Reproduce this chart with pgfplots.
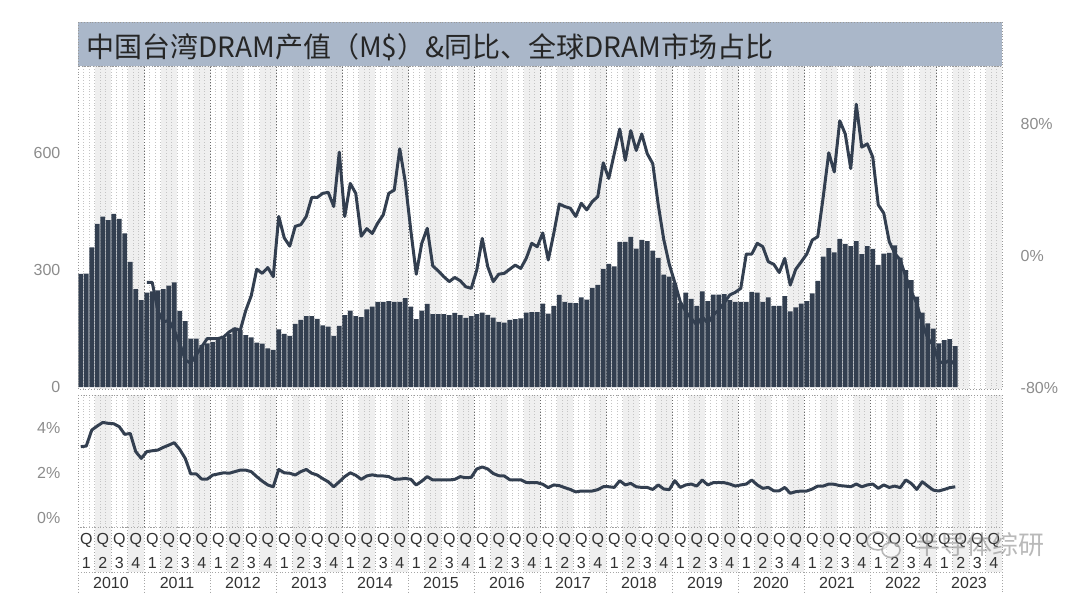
\documentclass[border=0pt]{standalone}
\usepackage{fontspec}
\setmainfont{Liberation Sans}
\newfontfamily\cjk{Noto Sans CJK SC}
\usepackage{pgfplots}
\usepackage{pgfplotstable}
\pgfplotsset{compat=1.18}
\definecolor{navy1}{HTML}{333F50}
\definecolor{shd}{HTML}{EFEFEF}
\definecolor{mgridc}{HTML}{C4C4C4}
\definecolor{ygridc}{HTML}{6A6A6A}
\definecolor{tbar}{RGB}{170,183,201}
\definecolor{ticklab}{HTML}{8C8C8C}
\definecolor{qlab}{HTML}{333333}

\pgfplotstableread{
i v
0 290
1 291
2 358
3 418
4 437
5 428
6 444
7 431
8 394
9 321
10 251
11 223
12 242
13 245
14 248
15 251
16 260
17 268
18 195
19 169
20 124
21 124
22 108
23 112
24 116
25 123
26 126
27 136
28 146
29 146
30 133
31 127
32 114
33 111
34 99
35 95
36 148
37 136
38 131
39 162
40 172
41 182
42 182
43 175
44 158
45 155
46 131
47 157
48 184
49 196
50 182
51 179
52 199
53 206
54 218
55 218
56 220
57 218
58 218
59 228
60 206
61 174
62 196
63 213
64 187
65 187
66 187
67 184
68 190
69 184
70 177
71 182
72 187
73 191
74 185
75 178
76 167
77 165
78 172
79 174
80 176
81 191
82 192
83 192
84 214
85 188
86 208
87 236
88 218
89 216
90 215
91 230
92 224
93 254
94 262
95 303
96 316
97 309
98 372
99 372
100 385
101 355
102 377
103 374
104 350
105 331
106 288
107 283
108 267
109 216
110 242
111 226
112 208
113 245
114 220
115 237
116 237
117 238
118 223
119 218
120 218
121 218
122 244
123 242
124 218
125 230
126 208
127 208
128 233
129 194
130 204
131 214
132 220
133 240
134 272
135 334
136 356
137 345
138 380
139 367
140 361
141 374
142 341
143 361
144 354
145 313
146 342
147 344
148 363
149 332
150 300
151 274
152 232
153 191
154 163
155 150
156 112
157 120
158 123
159 105
}\bars

\pgfplotstableread{
i v
12 -16
13 -16
14 -33
15 -40
16 -39
17 -45
18 -53
19 -63
20 -65
21 -60
22 -55
23 -50
24 -50
25 -50
26 -49
27 -46
28 -44
29 -45
30 -33
31 -24
32 -8
33 -10.5
34 -7
35 -12.5
36 24
37 11
38 6
39 18
40 19
41 24
42 35.5
43 35.5
44 38
45 38.6
46 30
47 63
48 24
49 44
50 38
51 12
52 16.6
53 13.7
54 20
55 25
56 38
57 40
58 65
59 45
60 15.8
61 -11
62 7.7
63 16.8
64 -6
65 -9
66 -12.5
67 -15.5
68 -13
69 -15
70 -18.6
71 -19.6
72 -8.5
73 10.7
74 -6.5
75 -15.5
76 -11
77 -10.5
78 -8
79 -5.5
80 -7.5
81 -1.4
82 7.7
83 5.6
84 14
85 -2.4
86 13.7
87 31.5
88 30
89 29
90 24
91 32
92 28
93 33
94 36
95 56.5
96 47
97 62
98 77
99 58
100 76
101 64
102 74
103 62
104 56
105 31
106 10
107 -5
108 -16
109 -27.7
110 -33.7
111 -37.8
112 -41.8
113 -36.8
114 -40.8
115 -35.8
116 -32.7
117 -28.3
118 -23.6
119 -22
120 -19.6
121 1.2
122 1.2
123 7.7
124 5.7
125 -3.4
126 -5
127 -10
128 -1.4
129 -17.6
130 -8
131 -3.5
132 1.2
133 9.7
134 11.7
135 36
136 62.6
137 51
138 82
139 74
140 53
141 92
142 66
143 68
144 60
145 31
146 26
147 8.7
148 1.6
149 -2.4
150 -12.5
151 -21.6
152 -28.7
153 -40.8
154 -49.9
155 -54
156 -64
157 -65
158 -63
159 -66
}\yoy

\pgfplotstableread{
i v
0 3.17
1 3.20
2 3.91
3 4.09
4 4.25
5 4.21
6 4.19
7 4.06
8 3.72
9 3.76
10 2.95
11 2.65
12 2.95
13 2.99
14 3.02
15 3.14
16 3.24
17 3.35
18 3.05
19 2.65
20 1.96
21 1.96
22 1.73
23 1.73
24 1.91
25 1.96
26 2.01
27 1.99
28 2.06
29 2.13
30 2.13
31 2.06
32 1.84
33 1.64
34 1.47
35 1.39
36 2.16
37 2.01
38 1.99
39 1.91
40 2.06
41 2.16
42 1.99
43 1.91
44 1.75
45 1.61
46 1.39
47 1.61
48 1.84
49 2.01
50 1.90
51 1.72
52 1.87
53 1.92
54 1.87
55 1.87
56 1.84
57 1.72
58 1.73
59 1.76
60 1.72
61 1.47
62 1.64
63 1.84
64 1.69
65 1.69
66 1.70
67 1.69
68 1.72
69 1.84
70 1.79
71 1.81
72 2.18
73 2.27
74 2.18
75 1.98
76 1.88
77 1.87
78 1.70
79 1.70
80 1.70
81 1.58
82 1.57
83 1.57
84 1.50
85 1.35
86 1.47
87 1.44
88 1.35
89 1.27
90 1.16
91 1.20
92 1.20
93 1.20
94 1.26
95 1.39
96 1.39
97 1.36
98 1.66
99 1.47
100 1.54
101 1.39
102 1.36
103 1.36
104 1.27
105 1.47
106 1.29
107 1.26
108 1.66
109 1.36
110 1.47
111 1.51
112 1.42
113 1.69
114 1.47
115 1.57
116 1.58
117 1.57
118 1.51
119 1.42
120 1.47
121 1.51
122 1.69
123 1.47
124 1.32
125 1.36
126 1.21
127 1.21
128 1.36
129 1.10
130 1.17
131 1.20
132 1.20
133 1.29
134 1.42
135 1.42
136 1.51
137 1.50
138 1.44
139 1.42
140 1.39
141 1.51
142 1.39
143 1.47
144 1.51
145 1.32
146 1.47
147 1.36
148 1.42
149 1.35
150 1.69
151 1.54
152 1.27
153 1.61
154 1.42
155 1.24
156 1.20
157 1.27
158 1.35
159 1.39
}\share

\pgfplotsset{
  panel/.style={
    scale only axis, width=462pt, anchor=south west,
    xmin=0, xmax=168, xtick=\empty,
    axis line style={draw=none}, major tick length=0pt,
    yticklabel style={font=\fontsize{8}{9}\selectfont, text=ticklab},
  },
}

\begin{document}
\begin{tikzpicture}
\useasboundingbox (0,0) rectangle (540pt,297pt);

% ---------- top panel: bars (left axis) ----------
\begin{axis}[panel, at={(39pt,102.5pt)}, height=161.5pt,
  ymin=-5.1, ymax=823.1, ytick={0,300,600},
  yticklabels={\mbox{0},\mbox{300},\mbox{600}},
  yticklabel style={xshift=-5.3pt}]
  \pgfplotsinvokeforeach{0,...,13}{
    \fill[shd] (axis cs:{12*#1+3},-5.1) rectangle (axis cs:{12*#1+6},823.1);
    \fill[shd] (axis cs:{12*#1+9},-5.1) rectangle (axis cs:{12*#1+12},823.1);
  }
  \pgfplotsinvokeforeach{1,...,167}{
    \draw[mgridc, densely dotted, line width=0.4pt] (axis cs:#1,-5.1) -- (axis cs:#1,823.1);
  }
  \pgfplotsinvokeforeach{1,...,13}{
    \draw[ygridc, densely dotted, line width=0.5pt] (axis cs:{12*#1},-5.1) -- (axis cs:{12*#1},823.1);
  }
  \addplot[ybar, bar width=2.35pt, fill=navy1, draw=none]
    table[x expr=\thisrow{i}+0.5, y=v]{\bars};
\end{axis}

% ---------- top panel: YoY line (right axis) ----------
\begin{axis}[panel, at={(39pt,102.5pt)}, height=161.5pt,
  ymin=-80.6, ymax=115.2, axis y line*=right, axis x line=none,
  ytick={-80,0,80},
  yticklabels={\mbox{-80\%},\mbox{0\%},\mbox{80\%}},
  yticklabel style={anchor=west, xshift=5.8pt}]
  \addplot[navy1, line width=1.5pt, line join=round, no markers]
    table[x expr=\thisrow{i}+0.5, y=v]{\yoy};
\end{axis}

% ---------- bottom panel: market share ----------
\begin{axis}[panel, at={(39pt,33.5pt)}, height=66pt,
  ymin=-0.4, ymax=5.47, ytick={0,2,4},
  yticklabels={\mbox{0\%},\mbox{2\%},\mbox{4\%}},
  yticklabel style={xshift=-5.3pt}]
  \pgfplotsinvokeforeach{0,...,13}{
    \fill[shd] (axis cs:{12*#1+3},-0.4) rectangle (axis cs:{12*#1+6},5.47);
    \fill[shd] (axis cs:{12*#1+9},-0.4) rectangle (axis cs:{12*#1+12},5.47);
  }
  \pgfplotsinvokeforeach{1,...,167}{
    \draw[mgridc, densely dotted, line width=0.4pt] (axis cs:#1,-0.4) -- (axis cs:#1,5.47);
  }
  \pgfplotsinvokeforeach{1,...,13}{
    \draw[ygridc, densely dotted, line width=0.5pt] (axis cs:{12*#1},-0.4) -- (axis cs:{12*#1},5.47);
  }
  \addplot[navy1, line width=1.5pt, line join=round, no markers]
    table[x expr=\thisrow{i}+0.5, y=v]{\share};
\end{axis}

% ---------- frames, title, category rows (pixel coordinates) ----------
\begin{scope}[x=0.5pt, y=-0.5pt, shift={(0pt,297pt)}]
  \fill[tbar] (78,22) rectangle (1002,66);
  \draw[gray!80, densely dotted, line width=0.4pt] (78,22) rectangle (1002,66);
  \node[anchor=base west, inner sep=0pt, text=black!85] at (86,57.3)
    {\cjk\fontsize{14}{16}\selectfont 中国台湾DRAM产值（M\$）\&同比、全球DRAM市场占比};
  \draw[gray!80, densely dotted, line width=0.4pt] (78,66) rectangle (1002,389);
  \draw[gray!80, densely dotted, line width=0.4pt] (78,395) rectangle (1002,527);
  % quarter row
  \foreach \q in {0,...,55}{
    \pgfmathsetmacro\xa{78+16.5*\q}
    \pgfmathsetmacro\xc{\xa+8.25}
    \pgfmathtruncatemacro\qq{mod(\q,4)+1}
    \ifodd\q \fill[shd] (\xa,527) rectangle ++(16.5,45); \fi
    \draw[gray!70, densely dotted, line width=0.4pt] (\xa,527) -- (\xa,572);
    \node[text=qlab, font=\fontsize{8}{9}\selectfont, inner sep=0pt] at (\xc,540.5) {Q};
    \node[text=qlab, font=\fontsize{8}{9}\selectfont, inner sep=0pt] at (\xc,562.5) {\qq};
  }
  \draw[gray!70, densely dotted, line width=0.4pt] (1002,527) -- (1002,594);
  \draw[gray!70, densely dotted, line width=0.4pt] (78,527) -- (1002,527);
  \draw[gray!70, densely dotted, line width=0.4pt] (78,572) -- (1002,572);
  % year row
  \foreach \yr [count=\k from 0] in {2010,...,2023}{
    \pgfmathsetmacro\xa{78+66*\k}
    \draw[gray!70, densely dotted, line width=0.4pt] (\xa,572) -- (\xa,594);
    \node[text=qlab, font=\fontsize{8}{9}\selectfont, inner sep=0pt] at (\xa+33,583) {\yr};
  }
  % watermark
  \begin{scope}[opacity=0.55]
    \draw[gray, line width=0.8pt] (878,541) ellipse (11 and 9);
    \draw[gray, line width=0.8pt, fill=white] (891,550) ellipse (9 and 7.5);
    \node[text=gray, inner sep=0pt] at (979,545)
      {\cjk\fontsize{13}{15}\selectfont 半导体综研};
  \end{scope}
\end{scope}
\end{tikzpicture}
\end{document}
